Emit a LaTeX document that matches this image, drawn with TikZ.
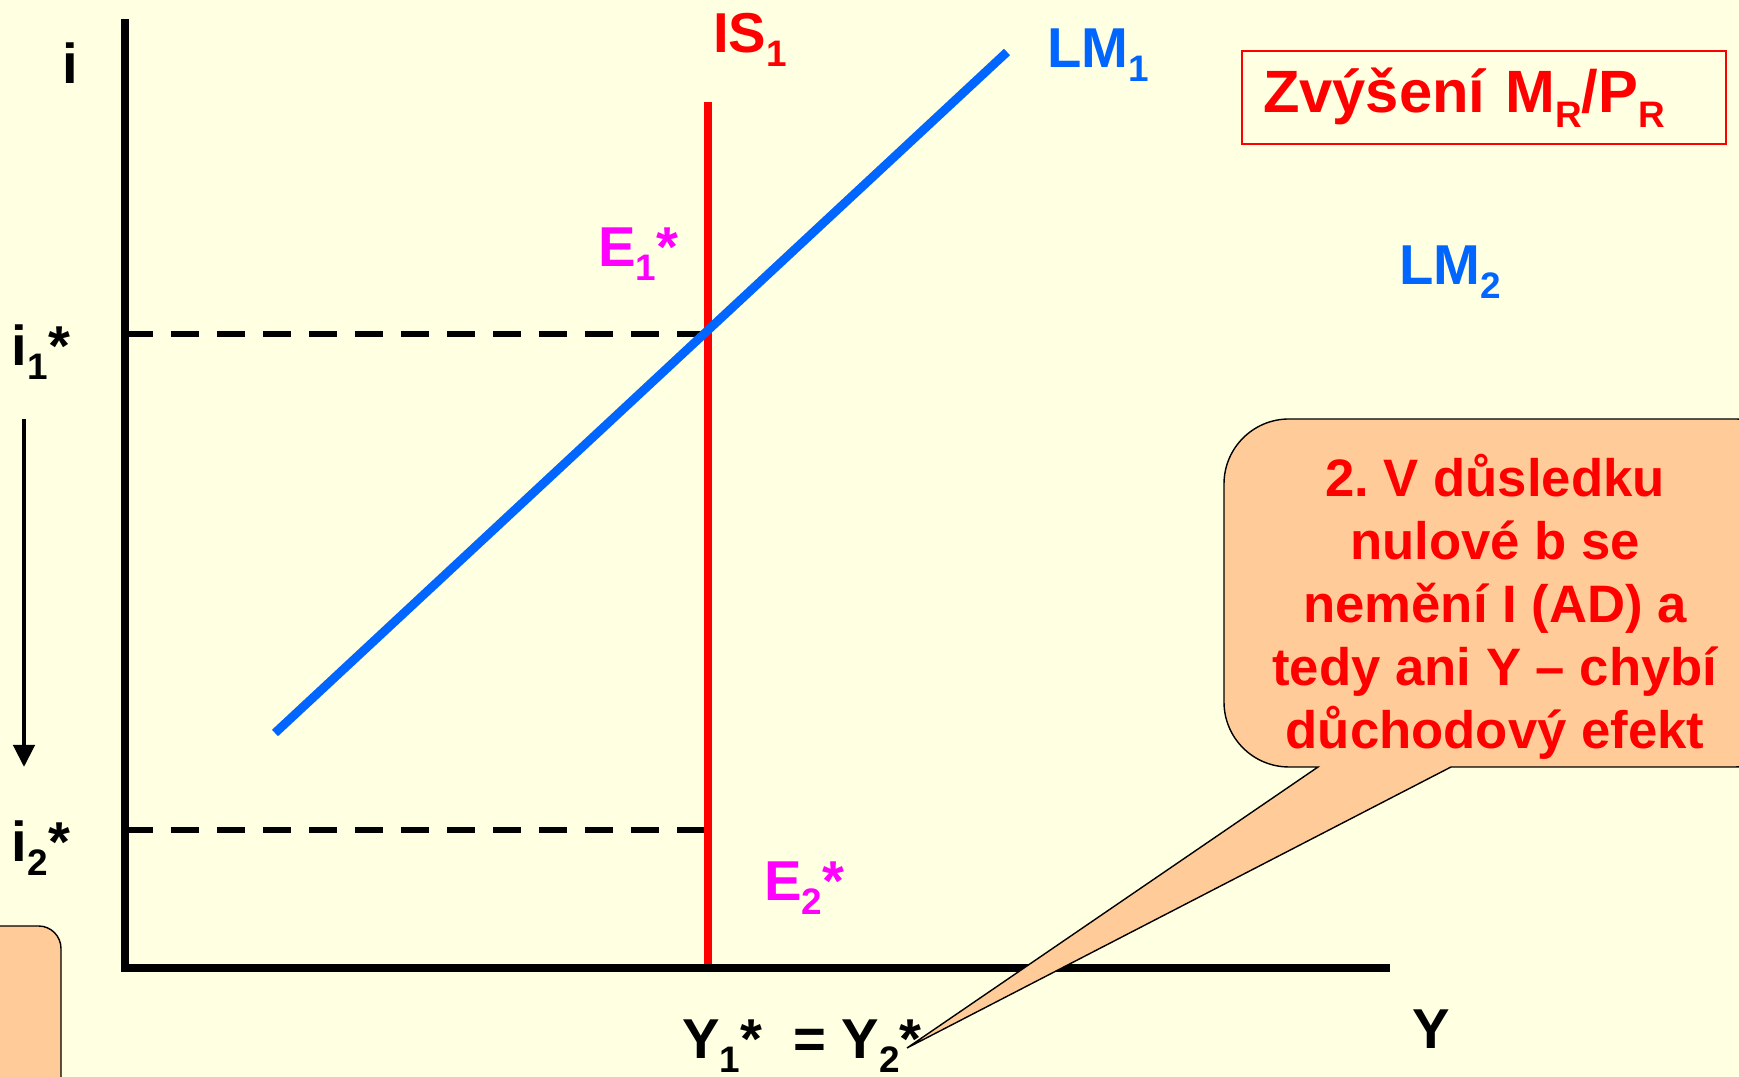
\documentclass[tikz,border=0pt]{standalone}
\usepackage{fontspec}
\setmainfont{Liberation Sans}
\usetikzlibrary{arrows.meta}
\definecolor{paper}{RGB}{255,255,225}
\definecolor{peach}{RGB}{255,204,153}
\definecolor{lmblue}{RGB}{0,102,255}
\definecolor{pointpink}{RGB}{255,0,255}
\newcommand\lo[1]{\raisebox{-.25em}{\fontsize{21}{21}\selectfont #1}}
\frenchspacing
\begin{document}
\begin{tikzpicture}[x=0.02cm, y=0.02cm, >={Triangle[length=0.44cm,width=0.42cm]},
  font=\bfseries\fontsize{32}{38}\selectfont,
  axis/.style={line width=5pt},
  guide/.style={line width=3pt, dash pattern=on 0.56cm off 0.36cm},
  callout/.style={draw=black, line width=0.8pt, fill=peach}]
	\fill[paper] (0,0) rectangle (1739,1077);
	\clip (0,0) rectangle (1739,1077);
	% points
	\coordinate (O) at (125,109);
	\coordinate (ytop) at (125,1058);
	\coordinate (xend) at (1390,109);
	\coordinate (IStop) at (708,975);
	\coordinate (ISbot) at (708,109);
	\coordinate (LMa) at (275,344);
	\coordinate (LMb) at (1007,1025);
	\coordinate (P1) at (708,743);
	\coordinate (P2) at (708,247);
	\coordinate (a1) at (24,658);
	\coordinate (a2) at (24,310);
	% labels
	\node (i) at (70,1014) {i};
	\node (i1) at (41,725) {i\lo{1}*};
	\node (i2) at (41,229) {i\lo{2}*};
	\node[text=red] (IS1) at (750,1037) {IS\lo{1}};
	\node[text=lmblue] (LM1) at (1098,1022) {LM\lo{1}};
	\node[text=lmblue] (LM2) at (1450,805) {LM\lo{2}};
	\node[text=pointpink] (E1) at (638,823) {E\lo{1}*};
	\node[text=pointpink] (E2) at (804,189) {E\lo{2}*};
	\node (Yeq) at (802,31) {Y\lo{1}*\ \ = Y\lo{2}*};
	\node (Y) at (1431,48) {Y};
	\node[draw=red, line width=1.2pt, anchor=south west, minimum width=9.68cm, minimum height=1.86cm,
	      inner xsep=0.42cm, text width=8.84cm, align=left, text=red, font=\bfseries\fontsize{34}{40}\selectfont]
	      (shift) at (1241,932) {Zvýšení M\lo{R}/P\lo{R}};
	% curves
	\draw[guide] (O |- P1) -- (P1);
	\draw[guide] (O |- P2) -- (P2);
	\draw[red, line width=4.3pt] (IStop) -- (ISbot);
	\draw[lmblue, line width=5pt] (LMa) -- (LMb);
	\draw[axis] (ytop) -- (O) -- (xend);
	\draw[->, line width=2.5pt] (a1) -- (a2);
	% callouts
	\draw[callout] (1451,310) [rounded corners=1.3cm] -- (1800,310) -- (1800,658) -- (1224,658) -- (1224,310)
	      [sharp corners] -- (1318,310) -- (907,29) -- cycle;
	\node[text=red, align=center, font=\bfseries\fontsize{30}{35.8}\selectfont] (note) at (1495,470)
	      {2. V důsledku\\nulové b se\\nemění I (AD) a\\tedy ani Y – chybí\\důchodový efekt};
	\draw[callout, rounded corners=0.45cm] (-60,-60) rectangle (61,151);
\end{tikzpicture}
\end{document}
